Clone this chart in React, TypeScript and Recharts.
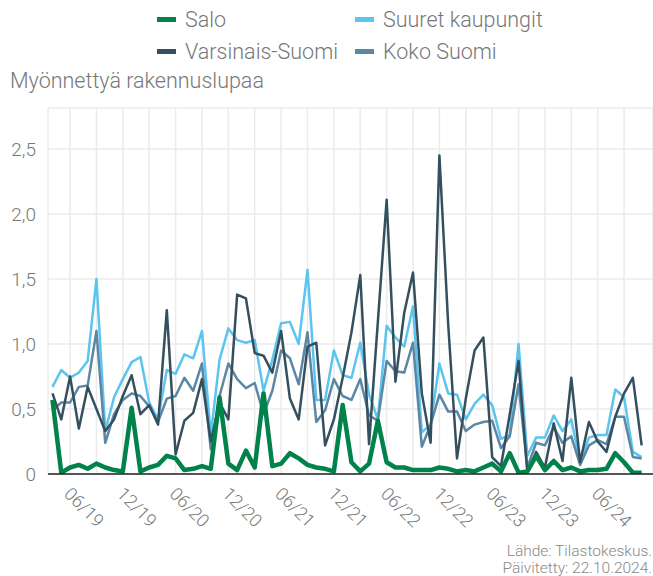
import { LineChart, Line, XAxis, YAxis, CartesianGrid } from 'recharts';

// Kuukausittaiset arvot, alkaen 04/2019 (indeksi 0)
const salo = [
  0.57, 0.01, 0.05, 0.07, 0.04, 0.08, 0.05, 0.03, 0.02, 0.51, 0.02, 0.05,
  0.07, 0.14, 0.12, 0.03, 0.04, 0.06, 0.04, 0.59, 0.08, 0.03, 0.18, 0.05,
  0.62, 0.06, 0.08, 0.16, 0.12, 0.07, 0.05, 0.04, 0.02, 0.53, 0.09, 0.02,
  0.08, 0.41, 0.09, 0.05, 0.05, 0.03, 0.03, 0.03, 0.05, 0.04, 0.02, 0.03,
  0.02, 0.05, 0.08, 0.02, 0.16, 0.01, 0.02, 0.14, 0.03, 0.10, 0.03, 0.05,
  0.02, 0.03, 0.03, 0.04, 0.16, 0.09, 0.01, 0.01,
];

const varsinaisSuomi = [
  0.62, 0.42, 0.75, 0.35, 0.67, 0.50, 0.33, 0.42, 0.60, 0.76, 0.46, 0.53,
  0.38, 1.26, 0.15, 0.41, 0.47, 0.73, 0.25, 0.55, 0.42, 1.38, 1.35, 0.93,
  0.91, 0.78, 1.10, 0.58, 0.42, 0.98, 1.01, 0.22, 0.42, 0.74, 1.09, 1.53,
  0.23, 1.17, 2.11, 0.71, 1.24, 1.55, 0.62, 0.24, 2.45, 1.15, 0.12, 0.58,
  0.95, 1.05, 0.13, 0.06, 0.46, 0.87, 0.01, 0.17, 0.05, 0.39, 0.10, 0.74,
  0.09, 0.40, 0.25, 0.17, 0.44, 0.62, 0.74, 0.22,
];

const suuretKaupungit = [
  0.67, 0.80, 0.74, 0.78, 0.87, 1.50, 0.33, 0.59, 0.73, 0.86, 0.90, 0.55,
  0.42, 0.80, 0.77, 0.92, 0.89, 1.10, 0.30, 0.88, 1.12, 1.03, 1.01, 1.03,
  0.64, 0.88, 1.16, 1.17, 1.00, 1.57, 0.57, 0.57, 0.95, 0.76, 0.74, 1.01,
  0.61, 0.42, 1.14, 1.05, 0.98, 1.29, 0.32, 0.38, 0.85, 0.62, 0.61, 0.42,
  0.54, 0.61, 0.53, 0.27, 0.30, 1.00, 0.14, 0.28, 0.28, 0.45, 0.33, 0.42,
  0.09, 0.28, 0.30, 0.30, 0.65, 0.59, 0.17, 0.13,
];

const kokoSuomi = [
  0.49, 0.55, 0.55, 0.67, 0.68, 1.10, 0.24, 0.46, 0.57, 0.62, 0.60, 0.52,
  0.40, 0.58, 0.60, 0.74, 0.64, 0.85, 0.19, 0.60, 0.85, 0.73, 0.66, 0.70,
  0.46, 0.64, 0.95, 0.89, 0.69, 1.09, 0.40, 0.49, 0.73, 0.60, 0.57, 0.73,
  0.45, 0.41, 0.87, 0.79, 0.78, 1.01, 0.21, 0.38, 0.61, 0.48, 0.48, 0.33,
  0.38, 0.40, 0.41, 0.20, 0.29, 0.69, 0.05, 0.24, 0.22, 0.36, 0.24, 0.29,
  0.07, 0.22, 0.26, 0.23, 0.44, 0.44, 0.13, 0.12,
];

// Akselin merkinnät: ruudukko 3 kk välein, teksti 6 kk välein
const gridTicks = [2, 5, 8, 11, 14, 17, 20, 23, 26, 29, 32, 35, 38, 41, 44, 47, 50, 53, 56, 59, 62, 65];
const labelTicks = [2, 8, 14, 20, 26, 32, 38, 44, 50, 56, 62];
const tickLabels = ['06/19', '12/19', '06/20', '12/20', '06/21', '12/21', '06/22', '12/22', '06/23', '12/23', '06/24'];
const yTicks = [0, 0.5, 1, 1.5, 2, 2.5];

const series = [
  { key: 'suuret', name: 'Suuret kaupungit', color: '#5bc4ef', width: 2.5 },
  { key: 'koko', name: 'Koko Suomi', color: '#5b87a5', width: 2.5 },
  { key: 'varsinais', name: 'Varsinais-Suomi', color: '#34505f', width: 2.5 },
  { key: 'salo', name: 'Salo', color: '#00824a', width: 4.5 },
];

const legendItems = [
  { name: 'Salo', color: '#00824a', left: 157, top: 19 },
  { name: 'Suuret kaupungit', color: '#5bc4ef', left: 355, top: 19 },
  { name: 'Varsinais-Suomi', color: '#34505f', left: 157, top: 51 },
  { name: 'Koko Suomi', color: '#5b87a5', left: 355, top: 51 },
];

const sourceLines = ['Lähde: Tilastokeskus.', 'Päivitetty: 22.10.2024.'];

const data = salo.map((v, i) => ({
  i,
  salo: v,
  varsinais: varsinaisSuomi[i],
  suuret: suuretKaupungit[i],
  koko: kokoSuomi[i],
}));

const FONT = 'Roboto, "Liberation Sans", sans-serif';
const TEXT = '#777';

function XTick(props: any) {
  const { x, y, payload } = props;
  const k = labelTicks.indexOf(payload.value);
  if (k < 0) return null;
  const ax = x - 7;
  const ay = y + 21;
  return (
    <text
      x={ax}
      y={ay}
      transform={`rotate(45, ${ax}, ${ay})`}
      textAnchor="start"
      fill={TEXT}
      fontSize={18}
      fontFamily={FONT}
      fontWeight={300}
    >
      {tickLabels[k]}
    </text>
  );
}

export default function App() {
  return (
    <div style={{ position: 'absolute', left: 0, top: 0, width: 653, height: 576, background: '#fff', fontFamily: FONT, overflow: 'hidden' }}>
      {legendItems.map((it) => (
        <div key={it.name} style={{ position: 'absolute', left: it.left, top: it.top - 12, height: 24, display: 'flex', alignItems: 'center' }}>
          <span style={{ display: 'inline-block', width: 19, height: 5, background: it.color, marginRight: 9 }} />
          <span style={{ fontSize: 21.5, color: TEXT, fontWeight: 300, whiteSpace: 'nowrap' }}>{it.name}</span>
        </div>
      ))}
      <div style={{ position: 'absolute', left: 10, top: 68, fontSize: 21.5, color: TEXT, fontWeight: 300, whiteSpace: 'nowrap' }}>
        Myönnettyä rakennuslupaa
      </div>

      <LineChart width={653} height={576} data={data} margin={{ top: 108, right: 0, bottom: 0, left: 0 }}>
        <CartesianGrid stroke="#ebebeb" strokeWidth={1.5} vertical horizontal />
        <XAxis
          type="number"
          dataKey="i"
          domain={[-0.51, 68.29]}
          ticks={gridTicks}
          interval={0}
          allowDataOverflow
          height={102}
          tickLine={false}
          tickSize={0}
          tickMargin={0}
          axisLine={{ stroke: '#222', strokeWidth: 1.5 }}
          tick={<XTick />}
        />
        <YAxis
          width={48}
          domain={[0, 2.815]}
          ticks={yTicks}
          interval={0}
          allowDataOverflow
          axisLine={false}
          tickLine={false}
          tickSize={0}
          tickMargin={12}
          tickFormatter={(v: number) => (v === 0 ? '0' : v.toFixed(1).replace('.', ','))}
          tick={{ fill: TEXT, fontSize: 19, fontFamily: FONT, fontWeight: 300 }}
        />
        {series.map((s) => (
          <Line
            key={s.key}
            type="linear"
            dataKey={s.key}
            name={s.name}
            stroke={s.color}
            strokeWidth={s.width}
            strokeLinejoin="round"
            dot={false}
            activeDot={false}
            isAnimationActive={false}
          />
        ))}
      </LineChart>

      {sourceLines.map((line, k) => (
        <div
          key={line}
          style={{ position: 'absolute', right: 1, top: 543 + k * 17, fontSize: 15.5, lineHeight: '16px', color: '#888', fontWeight: 300, whiteSpace: 'nowrap' }}
        >
          {line}
        </div>
      ))}
    </div>
  );
}
